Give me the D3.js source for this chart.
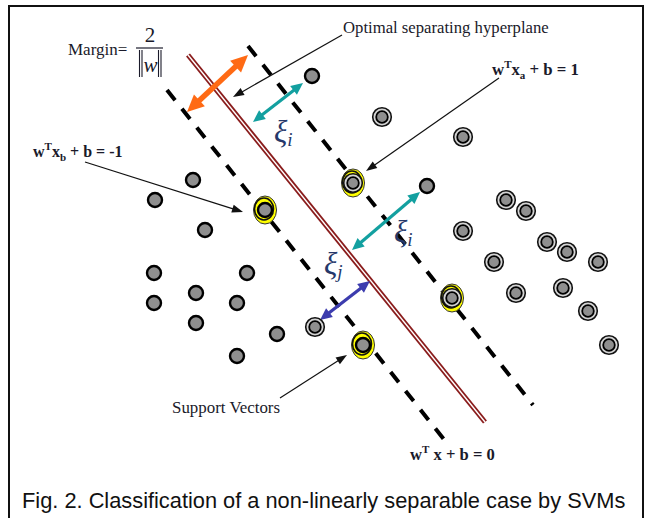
<!DOCTYPE html>
<html>
<head>
<meta charset="utf-8">
<script src="https://cdn.jsdelivr.net/npm/d3@7"></script>
<style>
  html, body { margin: 0; padding: 0; background: #fff; }
  svg { display: block; }
</style>
</head>
<body>
<svg id="chart" width="650" height="518"></svg>
<script>
// Feature space (x1, x2) for the SVM illustration
// Class -1: plain grey samples
const classNeg = [
  [1.55, 3.18], [1.93, 3.38], [2.05, 2.88], [1.54, 2.45], [2.47, 2.45],
  [1.54, 2.15], [1.96, 2.25], [2.37, 2.15], [1.96, 1.95], [2.77, 1.84],
  [2.37, 1.62],
  [3.12, 4.42], [4.27, 3.32]          // slack samples on the wrong side
];
// Class +1: ringed samples
const classPos = [
  [3.82, 4.01], [4.63, 3.81], [4.63, 2.87], [5.06, 3.18], [5.26, 3.07],
  [5.47, 2.76], [5.67, 2.66], [5.98, 2.56], [4.94, 2.56], [5.16, 2.25],
  [5.63, 2.30], [5.88, 2.07], [6.09, 1.73],
  [3.15, 1.91]                        // slack sample on the wrong side
];
// Support vectors lying on the margins
const supportNeg = [[2.65, 3.08], [3.63, 1.73]];
const supportPos = [[3.53, 3.35], [4.52, 2.20]];

// Decision boundary and the two margin lines (end points)
const hyperplane = [[1.88, 4.63], [4.85, 0.96]];
const marginNeg  = [[1.67, 4.28], [4.50, 0.71]];
const marginPos  = [[2.48, 4.72], [5.33, 1.13]];

// Double-headed measurement arrows
const marginArrow = [[1.87, 4.06], [2.48, 4.63]];
const slackArrows = [
  { p: [[2.53, 3.96], [3.03, 4.35]], kind: "xi" },
  { p: [[3.52, 2.68], [4.20, 3.26]], kind: "xi" },
  { p: [[3.20, 1.98], [3.70, 2.37]], kind: "xj" }
];

// Annotation pointers: from label to target
const pointers = [
  [[3.42, 4.83], [2.33, 4.21]],   // optimal separating hyperplane
  [[4.99, 4.40], [3.66, 3.47]],   // w'xa + b = 1
  [[0.85, 3.56], [2.43, 3.06]],   // w'xb + b = -1
  [[2.80, 1.20], [3.47, 1.63]]    // support vectors
];

const W = 650, H = 518;
const x = d3.scaleLinear().domain([0, 6.5]).range([0, W]);
const y = d3.scaleLinear().domain([0, 5.18]).range([H, 0]);

const svg = d3.select("#chart");

// Figure frame
svg.append("rect")
  .attr("x", 9).attr("y", 6).attr("width", 634).attr("height", 530)
  .attr("fill", "none").attr("stroke", "#111").attr("stroke-width", 2);

const line = d3.line().x(d => x(d[0])).y(d => y(d[1]));

// Margin lines (dashed)
[marginNeg, marginPos].forEach(m => {
  svg.append("path").attr("d", line(m))
    .attr("fill", "none").attr("stroke", "#000")
    .attr("stroke-width", 4)
    .attr("stroke-dasharray", "13 11");
});

// Separating hyperplane: double dark red rule
svg.append("path").attr("d", line(hyperplane))
  .attr("fill", "none").attr("stroke", "#8a1c1c").attr("stroke-width", 5);
svg.append("path").attr("d", line(hyperplane))
  .attr("fill", "none").attr("stroke", "#fff").attr("stroke-width", 1.4);

// Arrow helpers
function headPoints(tip, from, len, wid) {
  const dx = tip[0] - from[0], dy = tip[1] - from[1];
  const L = Math.hypot(dx, dy), ux = dx / L, uy = dy / L;
  const bx = tip[0] - ux * len, by = tip[1] - uy * len;
  return [tip, [bx - uy * wid / 2, by + ux * wid / 2], [bx + uy * wid / 2, by - ux * wid / 2]];
}
function arrow(g, pts, opt) {
  const a = [x(pts[0][0]), y(pts[0][1])], b = [x(pts[1][0]), y(pts[1][1])];
  const dx = b[0] - a[0], dy = b[1] - a[1], L = Math.hypot(dx, dy);
  const ux = dx / L, uy = dy / L;
  const s = opt.both ? [a[0] + ux * opt.len * 0.8, a[1] + uy * opt.len * 0.8] : a;
  const e = [b[0] - ux * opt.len * 0.8, b[1] - uy * opt.len * 0.8];
  g.append("line")
    .attr("x1", s[0]).attr("y1", s[1]).attr("x2", e[0]).attr("y2", e[1])
    .attr("stroke", opt.color).attr("stroke-width", opt.width);
  const heads = [headPoints(b, a, opt.len, opt.wid)];
  if (opt.both) heads.push(headPoints(a, b, opt.len, opt.wid));
  heads.forEach(h => g.append("polygon")
    .attr("points", h.map(p => p.join(",")).join(" "))
    .attr("fill", opt.color));
}

const arrows = svg.append("g");
arrow(arrows, marginArrow, { color: "#ff6a14", width: 5.5, len: 17, wid: 16, both: true });
slackArrows.forEach(s => arrow(arrows, s.p, {
  color: s.kind === "xi" ? "#13a0a0" : "#3c3cae",
  width: 3.2, len: 12, wid: 11, both: true
}));
pointers.forEach(p => arrow(arrows, p, { color: "#111", width: 1.2, len: 11, wid: 8, both: false }));

// Support vector highlights
const sv = svg.append("g");
sv.selectAll("ellipse.halo")
  .data(supportNeg.concat(supportPos))
  .join("ellipse")
  .attr("cx", d => x(d[0])).attr("cy", d => y(d[1]))
  .attr("rx", 11.5).attr("ry", 14)
  .attr("fill", "#ffff00").attr("stroke", "#333").attr("stroke-width", 1);
sv.selectAll("ellipse.ring")
  .data(supportNeg.concat(supportPos))
  .join("ellipse")
  .attr("cx", d => x(d[0]) - 1).attr("cy", d => y(d[1]) - 1)
  .attr("rx", 9.5).attr("ry", 11)
  .attr("fill", "none").attr("stroke", "#111").attr("stroke-width", 1.6);

// Class -1 samples: grey disc with black rim
svg.append("g").selectAll("circle")
  .data(classNeg.concat(supportNeg))
  .join("circle")
  .attr("cx", d => x(d[0])).attr("cy", d => y(d[1]))
  .attr("r", 7)
  .attr("fill", "#8f8f8f").attr("stroke", "#000").attr("stroke-width", 2.4);

// Class +1 samples: ringed grey disc
const pos = svg.append("g").selectAll("g")
  .data(classPos.concat(supportPos))
  .join("g")
  .attr("transform", d => `translate(${x(d[0])},${y(d[1])})`);
pos.append("circle").attr("r", 9.3)
  .attr("fill", "#d4d4d4").attr("stroke", "#111").attr("stroke-width", 1.6);
pos.append("circle").attr("r", 5.8)
  .attr("fill", "#8f8f8f").attr("stroke", "#000").attr("stroke-width", 1.8);

// Labels
const serif = "'Liberation Serif', 'Times New Roman', serif";
const ink = "#1a1a2a";
function label(px, py, opts) {
  return svg.append("text")
    .attr("x", x(px)).attr("y", y(py))
    .attr("font-family", serif)
    .attr("font-size", opts.size || 15)
    .attr("font-weight", opts.bold ? "bold" : "normal")
    .attr("fill", opts.fill || ink);
}

// Margin = 2 / ||w||
label(0.68, 4.63, { size: 17 }).text("Margin=");
label(1.50, 4.76, { size: 21 }).attr("text-anchor", "middle").text("2");
svg.append("line")
  .attr("x1", x(1.36)).attr("x2", x(1.63)).attr("y1", y(4.70)).attr("y2", y(4.70))
  .attr("stroke", ink).attr("stroke-width", 1.2);
[1.395, 1.42, 1.585, 1.61].forEach(b => svg.append("line")
  .attr("x1", x(b)).attr("x2", x(b)).attr("y1", y(4.68)).attr("y2", y(4.41))
  .attr("stroke", ink).attr("stroke-width", 1.1));
label(1.505, 4.46, { size: 21 }).attr("text-anchor", "middle")
  .attr("font-style", "italic").text("w");

label(3.43, 4.85, { size: 16.7 }).text("Optimal separating hyperplane");
label(1.72, 1.05, { size: 16.9 }).text("Support Vectors");

// Equations with superscript / subscript parts
function equation(px, py, size, parts) {
  const t = label(px, py, { size: size, bold: true });
  parts.forEach(p => {
    const s = t.append("tspan").text(p.t);
    if (p.dy) s.attr("dy", p.dy);
    if (p.small) s.attr("font-size", 11);
  });
  return t;
}
equation(4.92, 4.43, 16.8, [{ t: "w" }, { t: "T", small: true, dy: -7 }, { t: "x", dy: 7 },
  { t: "a", small: true, dy: 4 }, { t: " + b = 1", dy: -4 }]);
equation(0.33, 3.61, 16, [{ t: "w" }, { t: "T", small: true, dy: -7 }, { t: "x", dy: 7 },
  { t: "b", small: true, dy: 4 }, { t: " + b = -1", dy: -4 }]);
equation(4.10, 0.58, 16.6, [{ t: "w" }, { t: "T", small: true, dy: -7 }, { t: " x + b = 0", dy: 7 }]);

// Slack variable symbols
function xi(px, py, sub) {
  const t = label(px, py, { size: 31, fill: "#26386a" }).attr("font-style", "italic");
  t.append("tspan").text("ξ");
  t.append("tspan").attr("font-size", 19).attr("dy", 4).text(sub);
}
xi(2.74, 3.76, "i");
xi(3.94, 2.76, "i");
xi(3.24, 2.44, "j");

// Caption
svg.append("text")
  .attr("x", 22).attr("y", 508)
  .attr("font-family", "'Liberation Sans', Arial, sans-serif")
  .attr("font-size", 21.8).attr("fill", "#111")
  .text("Fig. 2. Classification of a non-linearly separable case by SVMs");
</script>
</body>
</html>
